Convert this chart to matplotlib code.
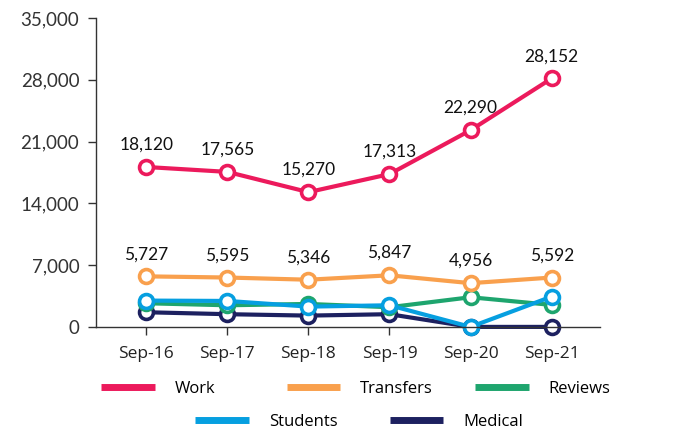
import matplotlib
matplotlib.use('Agg')
import matplotlib.pyplot as plt
from matplotlib.lines import Line2D
from matplotlib.ticker import FuncFormatter

# data
years = ['Sep-16', 'Sep-17', 'Sep-18', 'Sep-19', 'Sep-20', 'Sep-21']
work = [18120, 17565, 15270, 17313, 22290, 28152]
transfers = [5727, 5595, 5346, 5847, 4956, 5592]
reviews = [2680, 2450, 2600, 2230, 3360, 2490]
students = [2980, 2940, 2300, 2450, 0, 3430]
medical = [1660, 1440, 1280, 1440, 0, 0]

col_work = '#EC1A5C'
col_trans = '#F9A04D'
col_rev = '#1EA56E'
col_stu = '#069FE0'
col_med = '#1D2160'

fig = plt.figure(figsize=(6.76, 4.29), dpi=100)
ax = fig.add_axes([0.142, 0.238, 0.746, 0.72])

x = list(range(len(years)))
# draw bottom series first so the big ones sit on top
for vals, c in [(medical, col_med), (reviews, col_rev), (students, col_stu),
                (transfers, col_trans), (work, col_work)]:
    ax.plot(x, vals, color=c, lw=3, marker='o', ms=10, mfc='white',
            mec=c, mew=2.6, clip_on=False, solid_capstyle='round')

for vals in (work, transfers):
    for xi, v in zip(x, vals):
        ax.annotate(f'{v:,}', (xi, v), xytext=(0, 16), textcoords='offset points',
                    ha='center', va='center', fontsize=12.5, family='Lato',
                    color='#111111')

ax.set_xlim(-0.62, 5.6)
ax.set_ylim(0, 35000)
ax.set_yticks(range(0, 35001, 7000))
ax.yaxis.set_major_formatter(FuncFormatter(lambda v, p: f'{int(v):,}'))
ax.set_xticks(x)
ax.set_xticklabels(years)
for s in ('top', 'right'):
    ax.spines[s].set_visible(False)
for s in ('left', 'bottom'):
    ax.spines[s].set_color('#333333')
    ax.spines[s].set_linewidth(1)
ax.tick_params(axis='y', length=6, width=1, color='#333333', labelsize=13.5,
               labelcolor='#333333', pad=6)
ax.tick_params(axis='x', length=6, width=1, color='#333333', labelsize=12.5,
               labelcolor='#222222', pad=8)
for t in ax.get_yticklabels():
    t.set_family('Lato')
for t in ax.get_xticklabels():
    t.set_family('Open Sans')

# legend: two rows, placed entry by entry
entries = [('Work', col_work, 0.150, 0.093), ('Transfers', col_trans, 0.424, 0.093),
           ('Reviews', col_rev, 0.703, 0.093), ('Students', col_stu, 0.289, 0.017),
           ('Medical', col_med, 0.577, 0.017)]
for name, c, lx, ly in entries:
    h = Line2D([], [], color=c, lw=5, solid_capstyle='butt')
    fig.legend(handles=[h], labels=[name], loc='center left', bbox_to_anchor=(lx, ly),
               frameon=False, handlelength=3.2, handletextpad=1.2,
               borderaxespad=0, borderpad=0,
               prop={'family': 'Open Sans', 'size': 12})

fig.savefig('out.png', dpi=100)
